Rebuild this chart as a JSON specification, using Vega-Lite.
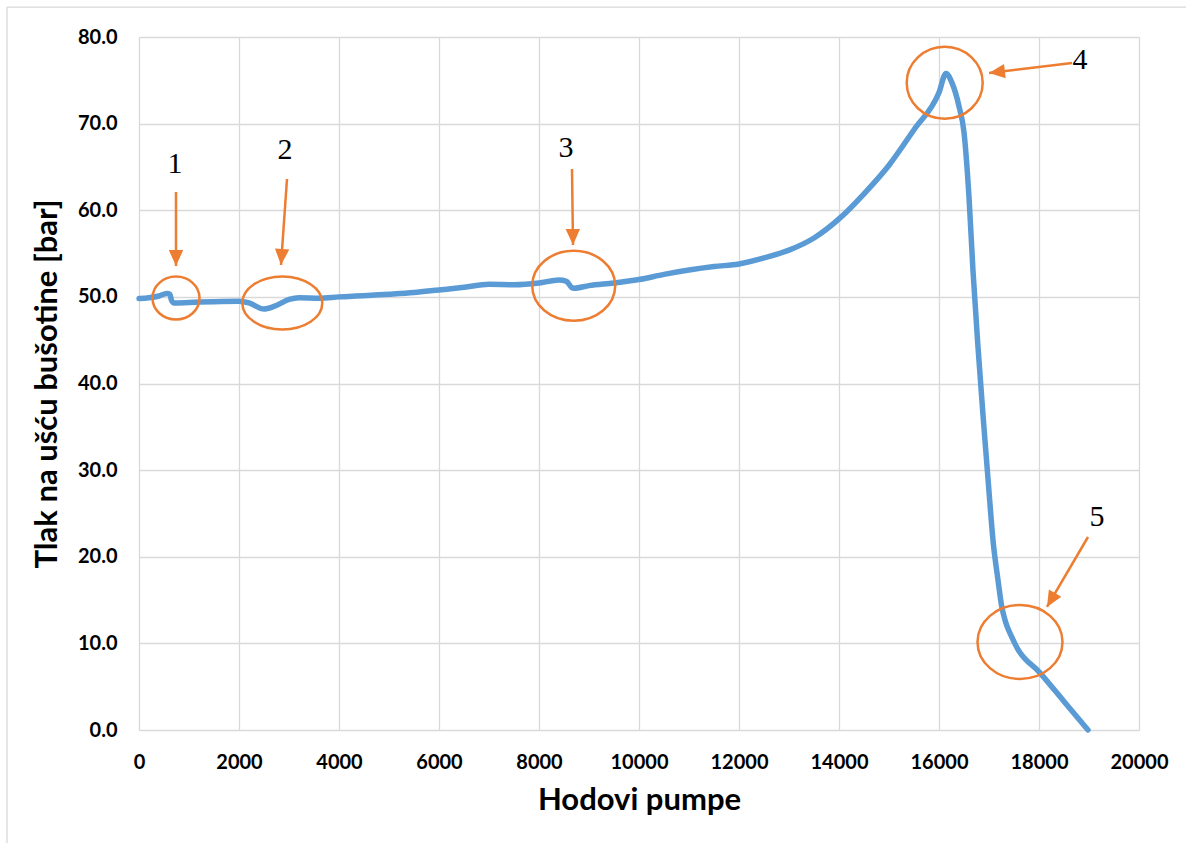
{
  "$schema": "https://vega.github.io/schema/vega-lite/v6.json",
  "width": 1000,
  "height": 693,
  "autosize": "none",
  "padding": {"left": 139, "top": 37, "right": 47, "bottom": 113},
  "background": "white",
  "config": {
    "view": {"stroke": null},
    "axis": {
      "labelFont": "Lato",
      "labelFontWeight": "bold",
      "labelFontSize": 20,
      "labelColor": "#000000",
      "titleFont": "Lato",
      "titleFontWeight": "bold",
      "titleFontSize": 31,
      "titleColor": "#000000",
      "ticks": false,
      "domain": false,
      "gridColor": "#d9d9d9",
      "gridWidth": 1.3,
      "labelFlush": false
    }
  },
  "datasets": {
    "curve": [
      {"x": 0, "y": 49.8}, {"x": 200, "y": 49.9}, {"x": 400, "y": 50.1}, {"x": 560, "y": 50.4},
      {"x": 620, "y": 50.3}, {"x": 650, "y": 49.6}, {"x": 700, "y": 49.3}, {"x": 1000, "y": 49.35},
      {"x": 1500, "y": 49.45}, {"x": 2000, "y": 49.5}, {"x": 2200, "y": 49.3}, {"x": 2500, "y": 48.6},
      {"x": 2700, "y": 48.9}, {"x": 3000, "y": 49.7}, {"x": 3200, "y": 49.9}, {"x": 3600, "y": 49.85},
      {"x": 4000, "y": 50.0}, {"x": 5000, "y": 50.3}, {"x": 5500, "y": 50.5}, {"x": 6000, "y": 50.8},
      {"x": 6500, "y": 51.1}, {"x": 7000, "y": 51.45}, {"x": 7500, "y": 51.4}, {"x": 8000, "y": 51.6},
      {"x": 8400, "y": 51.95}, {"x": 8550, "y": 51.8}, {"x": 8650, "y": 51.1}, {"x": 8700, "y": 51.0},
      {"x": 9000, "y": 51.3}, {"x": 9500, "y": 51.6}, {"x": 10000, "y": 52.0}, {"x": 10500, "y": 52.6},
      {"x": 11000, "y": 53.1}, {"x": 11500, "y": 53.5}, {"x": 12000, "y": 53.8}, {"x": 12500, "y": 54.5},
      {"x": 13000, "y": 55.4}, {"x": 13500, "y": 56.8}, {"x": 14000, "y": 59.0}, {"x": 14500, "y": 61.9},
      {"x": 15000, "y": 65.2}, {"x": 15500, "y": 69.3}, {"x": 16000, "y": 73.6}, {"x": 16140, "y": 75.8},
      {"x": 16260, "y": 74.7}, {"x": 16400, "y": 72.0}, {"x": 16500, "y": 69.0}, {"x": 16600, "y": 61.5},
      {"x": 16680, "y": 53.0}, {"x": 16780, "y": 44.2}, {"x": 16890, "y": 35.6}, {"x": 17010, "y": 26.8},
      {"x": 17080, "y": 21.9}, {"x": 17180, "y": 17.3}, {"x": 17250, "y": 14.4}, {"x": 17330, "y": 12.5},
      {"x": 17450, "y": 10.8}, {"x": 17560, "y": 9.5}, {"x": 18020, "y": 6.6}, {"x": 18500, "y": 3.3},
      {"x": 18980, "y": 0.0}
    ],
    "ellipses": [
      {"label": "1", "x": 740, "y": 49.87},
      {"label": "2", "x": 2866, "y": 49.3},
      {"label": "3", "x": 8694, "y": 51.28},
      {"label": "4", "x": 16114, "y": 74.71},
      {"label": "5", "x": 17620, "y": 10.16}
    ],
    "arrows": [
      {"label": "1", "x": 740, "y": 62.11, "x2": 740, "y2": 53.56},
      {"label": "2", "x": 2960, "y": 63.61, "x2": 2840, "y2": 53.68},
      {"label": "3", "x": 8660, "y": 64.76, "x2": 8680, "y2": 55.99},
      {"label": "4", "x": 18660, "y": 77.0, "x2": 17000, "y2": 75.84},
      {"label": "5", "x": 18980, "y": 22.28, "x2": 18160, "y2": 14.2}
    ],
    "heads": [
      {"label": "1", "x": 740, "y": 53.56},
      {"label": "2", "x": 2840, "y": 53.68},
      {"label": "3", "x": 8680, "y": 55.99},
      {"label": "4", "x": 17000, "y": 75.84},
      {"label": "5", "x": 18160, "y": 14.2}
    ],
    "numbers": [
      {"label": "1", "x": 720, "y": 65.34},
      {"label": "2", "x": 2920, "y": 66.95},
      {"label": "3", "x": 8540, "y": 67.19},
      {"label": "4", "x": 18820, "y": 77.35},
      {"label": "5", "x": 19160, "y": 24.59}
    ],
    "border": [
      {"x": -2640, "y": 83.46, "x2": -2640, "y2": -13.1},
      {"x": -2640, "y": 83.46, "x2": 20940, "y2": 83.46}
    ]
  },
  "encoding": {
    "x": {
      "field": "x", "type": "quantitative",
      "scale": {"domain": [0, 20000], "nice": false, "zero": false},
      "axis": {"values": [0, 2000, 4000, 6000, 8000, 10000, 12000, 14000, 16000, 18000, 20000], "format": "d", "labelPadding": 22, "titlePadding": 13},
      "title": "Hodovi pumpe"
    },
    "y": {
      "field": "y", "type": "quantitative",
      "scale": {"domain": [0, 80], "nice": false, "zero": false},
      "axis": {"values": [0, 10, 20, 30, 40, 50, 60, 70, 80], "format": ".1f", "labelPadding": 22, "titlePadding": 14},
      "title": "Tlak na ušću bušotine [bar]"
    }
  },
  "layer": [
    {
      "data": {"name": "border"},
      "mark": {"type": "rule", "color": "#d9d9d9", "strokeWidth": 1.3, "clip": false},
      "encoding": {"x2": {"field": "x2"}, "y2": {"field": "y2"}}
    },
    {
      "data": {"name": "curve"},
      "mark": {"type": "line", "color": "#5B9BD5", "strokeWidth": 5.5, "interpolate": "monotone", "strokeCap": "round", "strokeJoin": "round"},
      "encoding": {}
    },
    {
      "data": {"name": "ellipses"},
      "mark": {"type": "point", "filled": false, "color": "#ED7D31", "strokeWidth": 2.5, "size": 4, "opacity": 1},
      "encoding": {
        "shape": {
          "field": "label", "type": "nominal", "legend": null,
          "scale": {
            "domain": ["1", "2", "3", "4", "5"],
            "range": [
              "M -23.5 0 A 23.5 21.5 0 1 0 23.5 0 A 23.5 21.5 0 1 0 -23.5 0 Z",
              "M -40 0 A 40 26.5 0 1 0 40 0 A 40 26.5 0 1 0 -40 0 Z",
              "M -41.5 0 A 41.5 35 0 1 0 41.5 0 A 41.5 35 0 1 0 -41.5 0 Z",
              "M -38 0 A 38 36 0 1 0 38 0 A 38 36 0 1 0 -38 0 Z",
              "M -42.5 0 A 42.5 37 0 1 0 42.5 0 A 42.5 37 0 1 0 -42.5 0 Z"
            ]
          }
        }
      }
    },
    {
      "data": {"name": "arrows"},
      "mark": {"type": "rule", "color": "#ED7D31", "strokeWidth": 2.5},
      "encoding": {"x2": {"field": "x2"}, "y2": {"field": "y2"}}
    },
    {
      "data": {"name": "heads"},
      "mark": {"type": "point", "filled": true, "color": "#ED7D31", "opacity": 1, "size": 1024, "shape": "M 0 0 L 0.45 1 L -0.45 1 Z"},
      "encoding": {
        "angle": {
          "field": "label", "type": "nominal", "legend": null,
          "scale": {"type": "ordinal", "domain": ["1", "2", "3", "4", "5"], "range": [180, 184, 179.2, 263.1, 210.4]}
        }
      }
    },
    {
      "data": {"name": "numbers"},
      "mark": {"type": "text", "font": "Liberation Serif", "fontSize": 30, "color": "#000000", "align": "center", "baseline": "middle"},
      "encoding": {"text": {"field": "label"}}
    }
  ]
}
